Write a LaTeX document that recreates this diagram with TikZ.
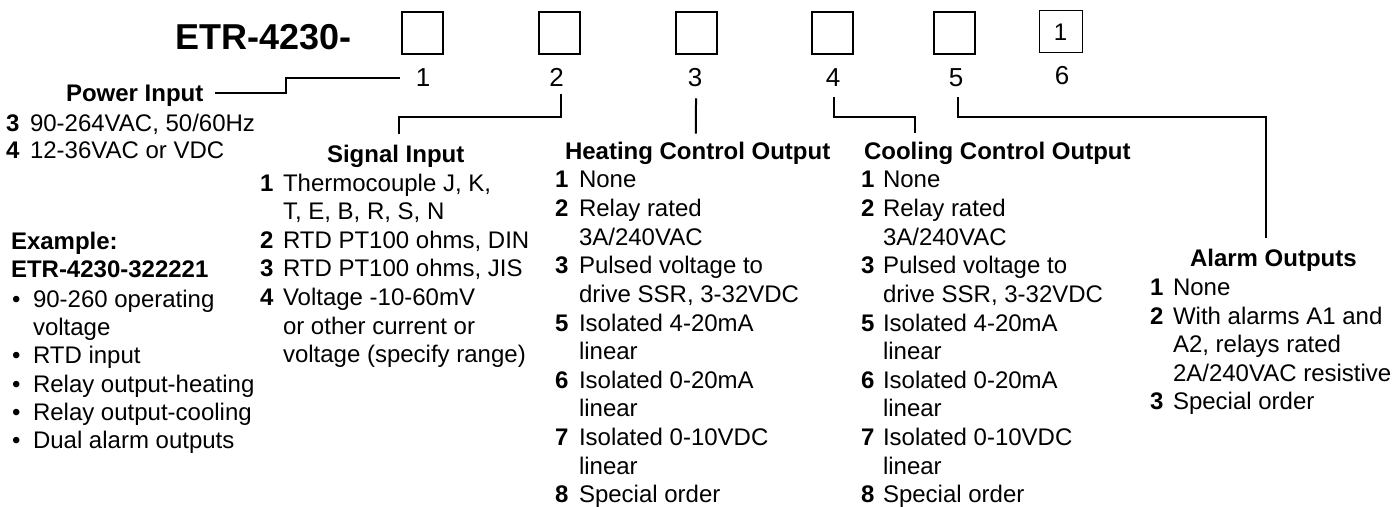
\documentclass[tikz,border=0pt]{standalone}
\usepackage{fontspec}
\setmainfont{Liberation Sans}
\usetikzlibrary{calc}
\begin{document}
\begin{tikzpicture}[x=1bp,y=-1bp]
\tikzset{
  txt/.style={inner sep=0pt, outer sep=0pt, anchor=base west, font=\fontsize{24bp}{28bp}\selectfont},
  hd/.style={txt, font=\fontsize{24bp}{28bp}\selectfont\bfseries},
  num/.style={txt, font=\fontsize{24bp}{28bp}\selectfont\bfseries},
  dig/.style={inner sep=0pt, outer sep=0pt, anchor=base, font=\fontsize{26bp}{30bp}\selectfont},
  slot/.style={draw, line width=2bp, minimum width=41bp, minimum height=42bp, inner sep=0pt},
  slotthin/.style={draw, line width=1bp, minimum width=43bp, minimum height=42bp, inner sep=0pt, font=\fontsize{24bp}{28bp}\selectfont},
  conn/.style={line width=2bp}
}
\useasboundingbox (0,0) rectangle (1396,507);
% title and slots
\node[txt, font=\fontsize{36bp}{40bp}\selectfont\bfseries] (etr) at (175.5,50) {ETR-4230-};
\node[slot] (s1) at (422.5,33) {};
\node[slot] (s2) at (559,33) {};
\node[slot] (s3) at (696,33) {};
\node[slot] (s4) at (832.5,33) {};
\node[slot] (s5) at (954,33) {};
\node[slotthin] (s6) at (1060.5,32) {1};
\node[dig] (d1) at (423,87) {1};
\node[dig] (d2) at (556.5,87) {2};
\node[dig] (d3) at (695,87) {3};
\node[dig] (d4) at (833,87) {4};
\node[dig] (d5) at (956,87) {5};
\node[dig] (d6) at (1062,85) {6};
% power input
\node[hd] (pwr) at (66,102) {Power Input};
\node[num] (p3n) at (6,131.5) {3};
\node[txt] (p3t) at (30,131.5) {90-264VAC, 50/60Hz};
\node[num] (p4n) at (6,159) {4};
\node[txt] (p4t) at (30,159) {12-36VAC or VDC};
% example
\node[hd] (ex1) at (11,250) {Example:};
\node[hd] (ex2) at (11,278) {ETR-4230-322221};
\node[txt] (b1) at (12,307) {•};
\node[txt] (e1) at (33,307) {90-260 operating};
\node[txt] (e1b) at (33,335) {voltage};
\node[txt] (b2) at (12,363) {•};
\node[txt] (e2) at (33,363) {RTD input};
\node[txt] (b3) at (12,392) {•};
\node[txt] (e3) at (33,392) {Relay output-heating};
\node[txt] (b4) at (12,420) {•};
\node[txt] (e4) at (33,420) {Relay output-cooling};
\node[txt] (b5) at (12,448) {•};
\node[txt] (e5) at (33,448) {Dual alarm outputs};
% signal input
\node[hd] (sig) at (327,163) {Signal Input};
\node[num] (s1n) at (260,191.5) {1};
\node[txt] (s1t) at (283,191.5) {Thermocouple J, K,};
\node[txt] (s1u) at (283,220) {T, E, B, R, S, N};
\node[num] (s2n) at (260,248.5) {2};
\node[txt] (s2t) at (283,248.5) {RTD PT100 ohms, DIN};
\node[num] (s3n) at (260,277) {3};
\node[txt] (s3t) at (283,277) {RTD PT100 ohms, JIS};
\node[num] (s4n) at (260,305.5) {4};
\node[txt] (s4t) at (283,305.5) {Voltage -10-60mV};
\node[txt] (s4u) at (283,334) {or other current or};
\node[txt] (s4v) at (283,362.5) {voltage (specify range)};
% heating
\node[hd] (heat) at (565,160) {Heating Control Output};
\node[num] (h1n) at (555,188) {1};
\node[txt] (h1t) at (579,188) {None};
\node[num] (h2n) at (555,216.6) {2};
\node[txt] (h2t) at (579,216.6) {Relay rated};
\node[txt] (h2u) at (579,245.2) {3A/240VAC};
\node[num] (h3n) at (555,273.8) {3};
\node[txt] (h3t) at (579,273.8) {Pulsed voltage to};
\node[txt] (h3u) at (579,302.4) {drive SSR, 3-32VDC};
\node[num] (h5n) at (555,331) {5};
\node[txt] (h5t) at (579,331) {Isolated 4-20mA};
\node[txt] (h5u) at (579,359.6) {linear};
\node[num] (h6n) at (555,388.2) {6};
\node[txt] (h6t) at (579,388.2) {Isolated 0-20mA};
\node[txt] (h6u) at (579,416.8) {linear};
\node[num] (h7n) at (555,445.4) {7};
\node[txt] (h7t) at (579,445.4) {Isolated 0-10VDC};
\node[txt] (h7u) at (579,474) {linear};
\node[num] (h8n) at (555,502.4) {8};
\node[txt] (h8t) at (579,502.4) {Special order};
% cooling
\node[hd] (cool) at (864,160) {Cooling Control Output};
\node[num] (c1n) at (861,188) {1};
\node[txt] (c1t) at (883,188) {None};
\node[num] (c2n) at (861,216.6) {2};
\node[txt] (c2t) at (883,216.6) {Relay rated};
\node[txt] (c2u) at (883,245.2) {3A/240VAC};
\node[num] (c3n) at (861,273.8) {3};
\node[txt] (c3t) at (883,273.8) {Pulsed voltage to};
\node[txt] (c3u) at (883,302.4) {drive SSR, 3-32VDC};
\node[num] (c5n) at (861,331) {5};
\node[txt] (c5t) at (883,331) {Isolated 4-20mA};
\node[txt] (c5u) at (883,359.6) {linear};
\node[num] (c6n) at (861,388.2) {6};
\node[txt] (c6t) at (883,388.2) {Isolated 0-20mA};
\node[txt] (c6u) at (883,416.8) {linear};
\node[num] (c7n) at (861,445.4) {7};
\node[txt] (c7t) at (883,445.4) {Isolated 0-10VDC};
\node[txt] (c7u) at (883,474) {linear};
\node[num] (c8n) at (861,502.4) {8};
\node[txt] (c8t) at (883,502.4) {Special order};
% alarm
\node[hd] (alarm) at (1190,267) {Alarm Outputs};
\node[num] (a1n) at (1150,295) {1};
\node[txt] (a1t) at (1173,295) {None};
\node[num] (a2n) at (1150,324) {2};
\node[txt] (a2t) at (1173,324) {With alarms A1 and};
\node[txt] (a2u) at (1173,352.5) {A2, relays rated};
\node[txt] (a2v) at (1173,381) {2A/240VAC resistive};
\node[num] (a3n) at (1150,409) {3};
\node[txt] (a3t) at (1173,409) {Special order};
% connectors
\draw[conn] ($(pwr.east)+(12,-3)$) -- ++(71,0) |- ($(d1.west)+(-16,0)$);
\draw[conn] ($(d2.south)+(4.5,7)$) -- ++(0,23) -| ($(sig.north)+(3,-12)$);
\draw[conn] ($(d3.south)+(1,11)$) -- ($(heat.north)+(-1.7,-9)$);
\draw[conn] ($(d4.south)+(1,10)$) -- ++(0,20) -| ($(cool.north west)+(51,-10)$);
\draw[conn] ($(d5.south)+(2,10)$) -- ++(0,20) -| ($(alarm.north)+(-7,-12)$);
\end{tikzpicture}
\end{document}
